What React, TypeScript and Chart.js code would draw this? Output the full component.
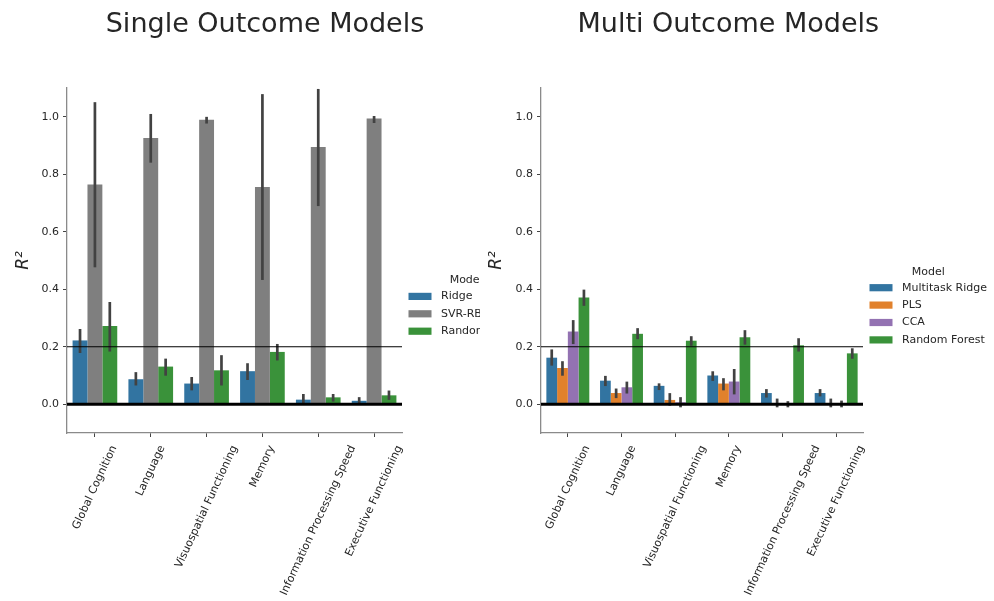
import React, { useEffect, useRef } from "react";
import { Chart, registerables } from "chart.js";

Chart.register(...registerables);

// ---------- data ----------
const categories = [
  "Global Cognition",
  "Language",
  "Visuospatial Functioning",
  "Memory",
  "Information Processing Speed",
  "Executive Functioning",
];
const yTickValues = [0, 0.2, 0.4, 0.6, 0.8, 1.0];
const thinRefLine = 0.2;
const thickRefLine = 0;

// Single outcome models
const ridgeMean = [0.222, 0.087, 0.072, 0.115, 0.016, 0.012];
const ridgeLow = [0.183, 0.07, 0.053, 0.089, 0.006, 0.006];
const ridgeHigh = [0.257, 0.107, 0.09, 0.138, 0.031, 0.02];
const svrMean = [0.764, 0.926, 0.99, 0.756, 0.895, 0.994];
const svrLow = [0.481, 0.845, 0.981, 0.437, 0.694, 0.983];
const svrHigh = [1.046, 1.005, 0.995, 1.074, 1.092, 0.998];
const rfSingleMean = [0.272, 0.131, 0.118, 0.182, 0.024, 0.031];
const rfSingleLow = [0.188, 0.104, 0.07, 0.157, 0.014, 0.02];
const rfSingleHigh = [0.351, 0.154, 0.166, 0.205, 0.031, 0.043];

// Multi outcome models
const mtRidgeMean = [0.162, 0.082, 0.064, 0.1, 0.039, 0.039];
const mtRidgeLow = [0.139, 0.068, 0.054, 0.086, 0.028, 0.032];
const mtRidgeHigh = [0.186, 0.094, 0.068, 0.11, 0.048, 0.048];
const plsMean = [0.126, 0.039, 0.015, 0.072, 0.003, 0.002];
const plsLow = [0.104, 0.026, 0.0, 0.053, -0.006, -0.006];
const plsHigh = [0.145, 0.05, 0.034, 0.086, 0.015, 0.015];
const ccaMean = [0.253, 0.059, 0.007, 0.079, 0.002, 0.002];
const ccaLow = [0.214, 0.042, -0.006, 0.039, -0.006, -0.006];
const ccaHigh = [0.288, 0.074, 0.02, 0.118, 0.006, 0.008];
const rfMultiMean = [0.371, 0.245, 0.221, 0.233, 0.205, 0.177];
const rfMultiLow = [0.347, 0.231, 0.208, 0.212, 0.188, 0.163];
const rfMultiHigh = [0.394, 0.26, 0.232, 0.253, 0.225, 0.19];

// ---------- styles ----------
const FONT = "'DejaVu Sans', sans-serif";
const TEXT = "#262626";
const SPINE = "#8a8a8a";
const TICK = "#444444";
const ERR = "#424242";
const BLUE = "#3274a1";
const GRAY = "#7f7f7f";
const GREEN = "#3a923a";
const ORANGE = "#e1812c";
const PURPLE = "#9372b2";

type PanelProps = {
  title: string;
  titleX: number;
  datasets: any[];
  width: number;
  left: number;
  yAxisWidth: number;
  rightPad: number;
  yTitlePad: number;
};

function makePlugin(title: string, titleX: number) {
  return {
    id: "customDraw",
    afterDatasetsDraw(chart: any) {
      const ctx = chart.ctx;
      const yScale = chart.scales.y;
      const area = chart.chartArea;
      ctx.save();
      // error bars
      chart.data.datasets.forEach((ds: any, i: number) => {
        const meta = chart.getDatasetMeta(i);
        meta.data.forEach((el: any, j: number) => {
          const lo = yScale.getPixelForValue(ds.errLow[j]);
          const hi = yScale.getPixelForValue(ds.errHigh[j]);
          ctx.beginPath();
          ctx.strokeStyle = ERR;
          ctx.lineWidth = 2.7;
          ctx.lineCap = "square";
          ctx.moveTo(el.x, lo);
          ctx.lineTo(el.x, hi);
          ctx.stroke();
        });
      });
      // reference lines
      ctx.lineCap = "butt";
      ctx.strokeStyle = "#000";
      ctx.lineWidth = 1.2;
      let y = yScale.getPixelForValue(thinRefLine);
      ctx.beginPath();
      ctx.moveTo(area.left, y);
      ctx.lineTo(area.right, y);
      ctx.stroke();
      ctx.lineWidth = 3;
      y = yScale.getPixelForValue(thickRefLine);
      ctx.beginPath();
      ctx.moveTo(area.left, y);
      ctx.lineTo(area.right, y);
      ctx.stroke();
      ctx.restore();
    },
    afterDraw(chart: any) {
      const ctx = chart.ctx;
      const xScale = chart.scales.x;
      const area = chart.chartArea;
      ctx.save();
      // title
      ctx.fillStyle = TEXT;
      ctx.font = `27px ${FONT}`;
      ctx.textAlign = "center";
      ctx.textBaseline = "alphabetic";
      ctx.fillText(title, titleX, 31.7);

      // rotated x tick labels (bbox centred on tick)
      const ang = (65 * Math.PI) / 180;
      ctx.font = `11px ${FONT}`;
      chart.data.labels.forEach((lab: string, i: number) => {
        const x = xScale.getPixelForValue(i);
        const w = ctx.measureText(lab).width;
        const h = 12.8;
        const H = w * Math.sin(ang) + h * Math.cos(ang);
        const top = area.bottom + 4 + 6.5;
        ctx.save();
        ctx.translate(x, top + H / 2);
        ctx.rotate(-ang);
        ctx.textAlign = "center";
        ctx.textBaseline = "middle";
        ctx.fillText(lab, 0, 0);
        ctx.restore();
      });

      // legend
      const items = chart.data.datasets;
      const patchX = area.right + 6.5;
      const textX = patchX + 32.5;
      const rowGap = 17.4;
      const titleGap = 16;
      const centerY = 305.8;
      const blockH = titleGap + (items.length - 1) * rowGap;
      const titleY = centerY - blockH / 2;
      let maxW = 0;
      items.forEach((d: any) => {
        maxW = Math.max(maxW, ctx.measureText(d.label).width);
      });
      const boxCenter = (patchX + textX + maxW) / 2;
      ctx.textAlign = "center";
      ctx.textBaseline = "middle";
      ctx.fillText("Model", boxCenter, titleY);
      ctx.textAlign = "left";
      items.forEach((d: any, k: number) => {
        const cy = titleY + titleGap + k * rowGap;
        ctx.fillStyle = d.backgroundColor;
        ctx.fillRect(patchX, cy - 3.6, 23, 7.2);
        ctx.fillStyle = TEXT;
        ctx.fillText(d.label, textX, cy);
      });
      ctx.restore();
    },
  };
}

function Panel(props: PanelProps) {
  const ref = useRef<HTMLCanvasElement | null>(null);
  useEffect(() => {
    if (!ref.current) return;
    const chart = new Chart(ref.current, {
      type: "bar",
      data: {
        labels: categories,
        datasets: props.datasets,
      },
      options: {
        responsive: false,
        animation: false,
        layout: { padding: { left: 0, top: 88, right: props.rightPad, bottom: 0 } },
        plugins: {
          legend: { display: false },
          tooltip: { enabled: false },
          title: { display: false },
        },
        datasets: { bar: { categoryPercentage: 0.8, barPercentage: 1.0 } },
        scales: {
          x: {
            type: "category",
            offset: true,
            grid: {
              display: true,
              offset: false,
              drawOnChartArea: false,
              drawTicks: true,
              tickLength: 4,
              tickColor: TICK,
              tickWidth: 1,
              color: TICK,
            },
            border: { display: true, color: SPINE, width: 1.3 },
            ticks: { display: false },
            afterFit: (s: any) => {
              s.height = 168;
            },
          },
          y: {
            min: -0.1,
            max: 1.1,
            afterBuildTicks: (s: any) => {
              s.ticks = yTickValues.map((v) => ({ value: v }));
            },
            ticks: {
              callback: (v: any) => Number(v).toFixed(1),
              font: { family: FONT, size: 11 },
              color: TEXT,
              padding: 4,
            },
            grid: {
              drawOnChartArea: false,
              drawTicks: true,
              tickLength: 4,
              tickColor: TICK,
              color: TICK,
            },
            border: { display: true, color: SPINE, width: 1.3 },
            title: {
              display: true,
              text: "R²",
              font: { family: FONT, size: 17, style: "italic" },
              color: TEXT,
              padding: { top: props.yTitlePad, bottom: 0 },
            },
            afterFit: (s: any) => {
              s.width = props.yAxisWidth;
            },
          },
        },
      } as any,
      plugins: [makePlugin(props.title, props.titleX)],
    });
    return () => chart.destroy();
  }, []);
  return (
    <canvas
      ref={ref}
      width={props.width}
      height={601}
      style={{ position: "absolute", left: props.left, top: 0, width: props.width, height: 601 }}
    />
  );
}

const singleDatasets = [
  { label: "Ridge", data: ridgeMean, errLow: ridgeLow, errHigh: ridgeHigh, backgroundColor: BLUE, borderWidth: 0 },
  { label: "SVR-RBF", data: svrMean, errLow: svrLow, errHigh: svrHigh, backgroundColor: GRAY, borderWidth: 0 },
  { label: "Random Forest", data: rfSingleMean, errLow: rfSingleLow, errHigh: rfSingleHigh, backgroundColor: GREEN, borderWidth: 0 },
];

const multiDatasets = [
  { label: "Multitask Ridge", data: mtRidgeMean, errLow: mtRidgeLow, errHigh: mtRidgeHigh, backgroundColor: BLUE, borderWidth: 0 },
  { label: "PLS", data: plsMean, errLow: plsLow, errHigh: plsHigh, backgroundColor: ORANGE, borderWidth: 0 },
  { label: "CCA", data: ccaMean, errLow: ccaLow, errHigh: ccaHigh, backgroundColor: PURPLE, borderWidth: 0 },
  { label: "Random Forest", data: rfMultiMean, errLow: rfMultiLow, errHigh: rfMultiHigh, backgroundColor: GREEN, borderWidth: 0 },
];

export default function App() {
  return (
    <div style={{ position: "fixed", left: 0, top: 0, width: 994, height: 601, background: "#fff", overflow: "hidden" }}>
      <Panel
        title="Single Outcome Models"
        titleX={265}
        datasets={singleDatasets}
        width={480}
        left={0}
        yAxisWidth={67}
        rightPad={78}
        yTitlePad={13.4}
      />
      <Panel
        title="Multi Outcome Models"
        titleX={248.3}
        datasets={multiDatasets}
        width={514}
        left={480}
        yAxisWidth={61}
        rightPad={131}
        yTitlePad={6.4}
      />
    </div>
  );
}
